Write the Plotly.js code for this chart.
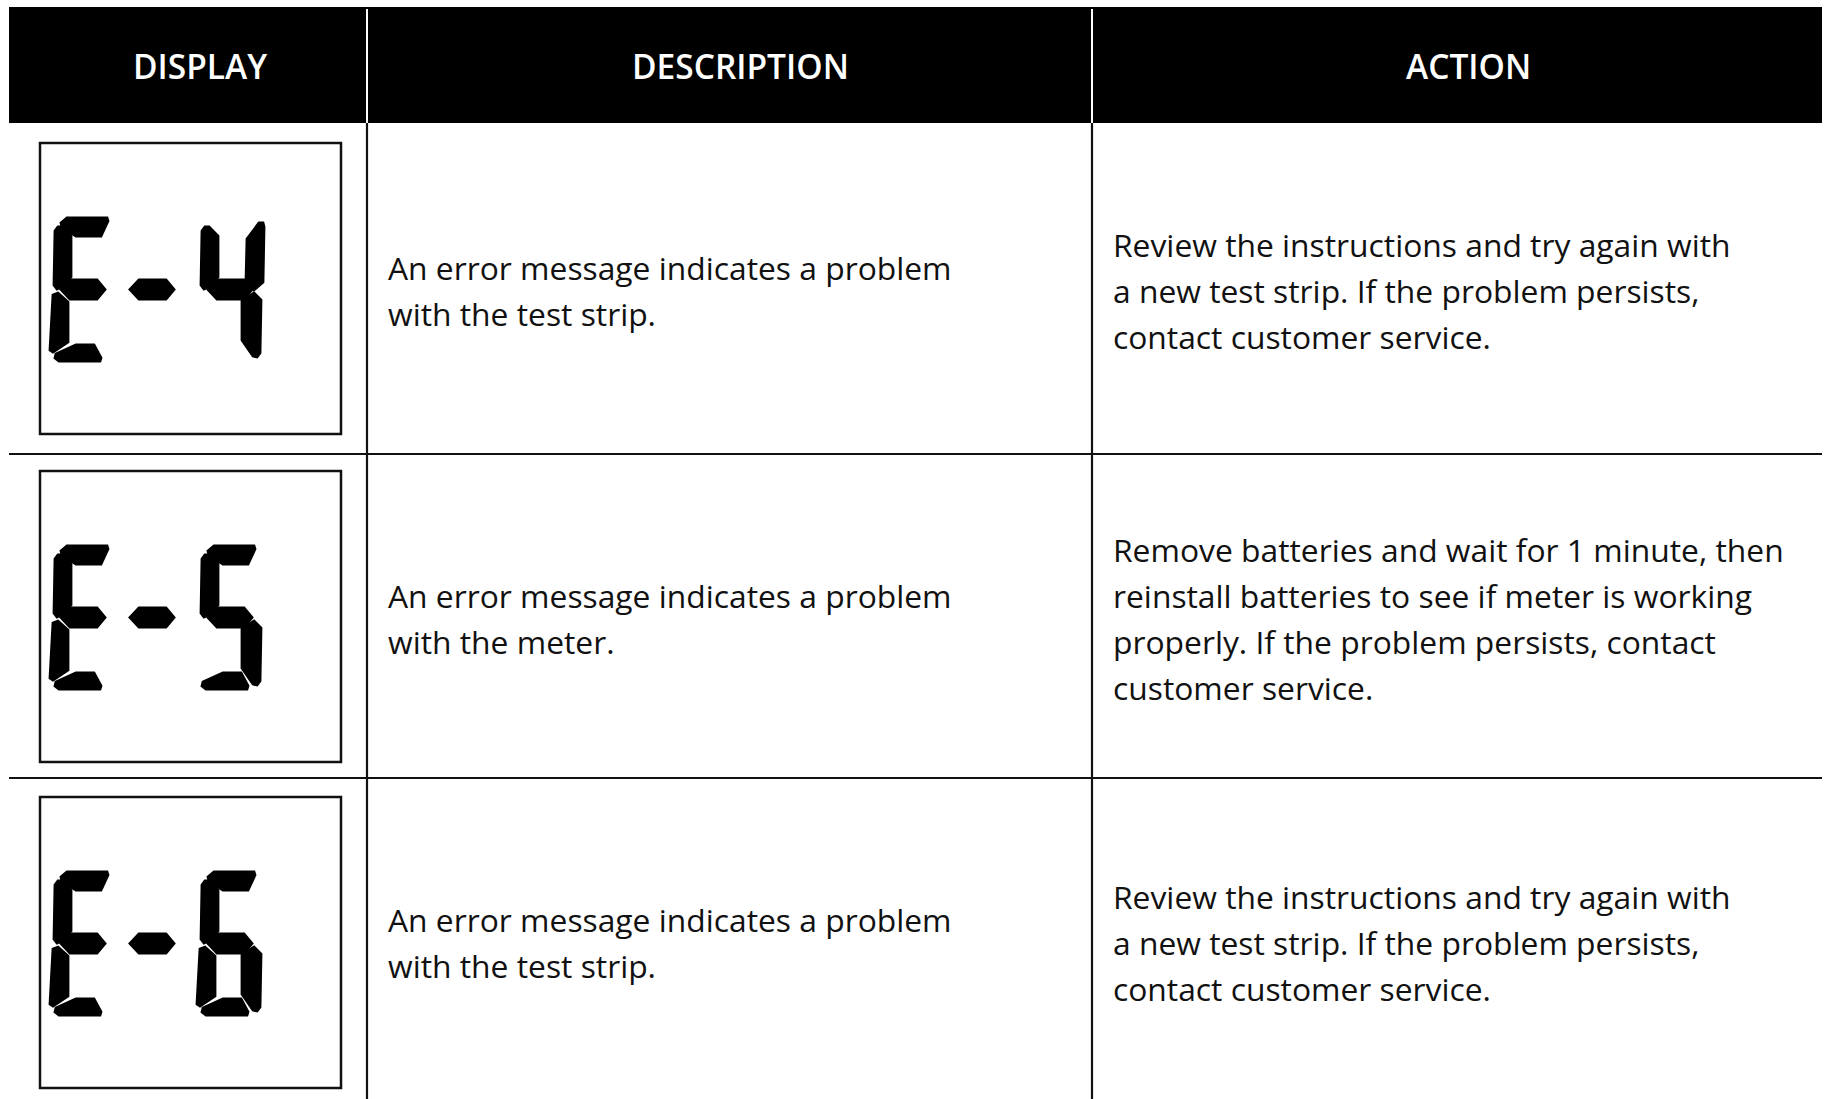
<!DOCTYPE html>
<html>
<head>
<meta charset="utf-8">
<script src="https://cdn.plot.ly/plotly-3.0.1.min.js"></script>
<style>
  html, body { margin: 0; padding: 0; background: #ffffff; }
  #chart { width: 1826px; height: 1099px; }
</style>
</head>
<body>
<div id="chart"></div>
<script>
// ---------- data ----------
const headers = ["DISPLAY", "DESCRIPTION", "ACTION"];
const displays = ["E-4", "E-5", "E-6"];
const descriptions = [
  "An error message indicates a problem\nwith the test strip.",
  "An error message indicates a problem\nwith the meter.",
  "An error message indicates a problem\nwith the test strip."
];
const actions = [
  "Review the instructions and try again with\na new test strip. If the problem persists,\ncontact customer service.",
  "Remove batteries and wait for 1 minute, then\nreinstall batteries to see if meter is working\nproperly. If the problem persists, contact\ncustomer service.",
  "Review the instructions and try again with\na new test strip. If the problem persists,\ncontact customer service."
];

// seven-segment glyph definitions (which segments are lit)
const glyphSegments = {
  "E": ["a", "f", "g", "e", "d"],
  "4": ["f", "g", "b", "c"],
  "5": ["a", "f", "g", "c", "d"],
  "6": ["a", "f", "g", "e", "c", "d"],
  "-": ["g"]
};

// ---------- layout geometry ----------
const W = 1826, H = 1099;
const tableL = 9, tableR = 1822;
const headTop = 7, headBot = 123;
const colDiv = [367, 1092];
const headCenters = [200, 740, 1468];
const rowTops = [123, 454, 778];
const rowBots = [454, 778, 1102];
const rowLines = [454, 778];
const boxTops = [143, 471, 797];
const boxL = 40, boxR = 341, boxH = 291;
const descX = 386, actX = 1111, lineGap = 46, textShift = 2;
const digitOriginX = 49;
const charOffsets = [0, 69, 147];
const FONT = "'Open Sans', 'Noto Sans', sans-serif";

// segment outlines relative to a digit origin (x) and box top (y)
const segShapes = {
  a: [[18,75],[58,75],[59,78],[52,93],[27,93],[13,84],[12,80]],
  b: [[63,80],[67,80],[68,84],[67,139],[58,147],[50,139],[51,96]],
  c: [[58,150],[65,157],[64,210],[61,214],[57,213],[46,197],[46,158]],
  d: [[27,202],[45,202],[52,215],[51,218],[10,218],[6,215],[7,211]],
  e: [[4,152],[9,150],[19,159],[19,199],[4,209],[1,207]],
  f: [[9,84],[13,84],[22,93],[22,134],[12,144],[8,146],[5,142],[6,88]],
  g: [[12,146.5],[21,137],[48,137],[56,146.5],[48,156],[21,156]]
};

const shapes = [];
const annotations = [];

// header band
shapes.push({type: "rect", xref: "x", yref: "y", x0: tableL, x1: tableR, y0: headTop, y1: headBot,
  fillcolor: "#000000", line: {width: 0}, layer: "below"});
colDiv.forEach(x => {
  shapes.push({type: "line", xref: "x", yref: "y", x0: x, x1: x, y0: headTop + 2, y1: headBot,
    line: {color: "#ffffff", width: 2}});
  shapes.push({type: "line", xref: "x", yref: "y", x0: x, x1: x, y0: headBot, y1: H,
    line: {color: "#111111", width: 2.2}});
});
rowLines.forEach(y => {
  shapes.push({type: "line", xref: "x", yref: "y", x0: tableL, x1: tableR, y0: y, y1: y,
    line: {color: "#111111", width: 2.2}});
});
headers.forEach((h, i) => {
  annotations.push({xref: "x", yref: "y", x: headCenters[i], y: 66, text: h, showarrow: false,
    xanchor: "center", yanchor: "middle",
    font: {family: FONT, size: 33.5, color: "#ffffff", weight: 600}});
});

// rows
displays.forEach((code, r) => {
  const bt = boxTops[r];
  shapes.push({type: "rect", xref: "x", yref: "y", x0: boxL, x1: boxR, y0: bt, y1: bt + boxH,
    line: {color: "#111111", width: 2.5}, fillcolor: "rgba(0,0,0,0)"});
  code.split("").forEach((ch, ci) => {
    const segs = glyphSegments[ch] || [];
    const ox = digitOriginX + charOffsets[ci];
    segs.forEach(s => {
      const pts = segShapes[s];
      const path = pts.map((p, k) => (k === 0 ? "M" : "L") + (ox + p[0]) + "," + (bt + p[1])).join(" ") + " Z";
      shapes.push({type: "path", xref: "x", yref: "y", path: path, fillcolor: "#000000",
        line: {color: "#000000", width: 2.8}});
    });
  });

  const yc = (rowTops[r] + rowBots[r]) / 2 + textShift;
  const put = (txt, x) => {
    const lines = txt.split("\n");
    lines.forEach((ln, li) => {
      annotations.push({xref: "x", yref: "y", x: x, y: yc + (li - (lines.length - 1) / 2) * lineGap,
        text: ln, showarrow: false, xanchor: "left", yanchor: "middle",
        font: {family: FONT, size: 31.8, color: "#111111"}});
    });
  };
  put(descriptions[r], descX);
  put(actions[r], actX);
});

const layout = {
  width: W, height: H,
  margin: {l: 0, r: 0, t: 0, b: 0, pad: 0},
  paper_bgcolor: "#ffffff", plot_bgcolor: "#ffffff",
  xaxis: {range: [0, W], visible: false, fixedrange: true},
  yaxis: {range: [H, 0], visible: false, fixedrange: true},
  showlegend: false,
  shapes: shapes,
  annotations: annotations
};

Plotly.newPlot("chart", [{type: "scatter", x: [], y: [], mode: "markers", hoverinfo: "skip"}], layout,
  {staticPlot: true, displayModeBar: false});
</script>
</body>
</html>
